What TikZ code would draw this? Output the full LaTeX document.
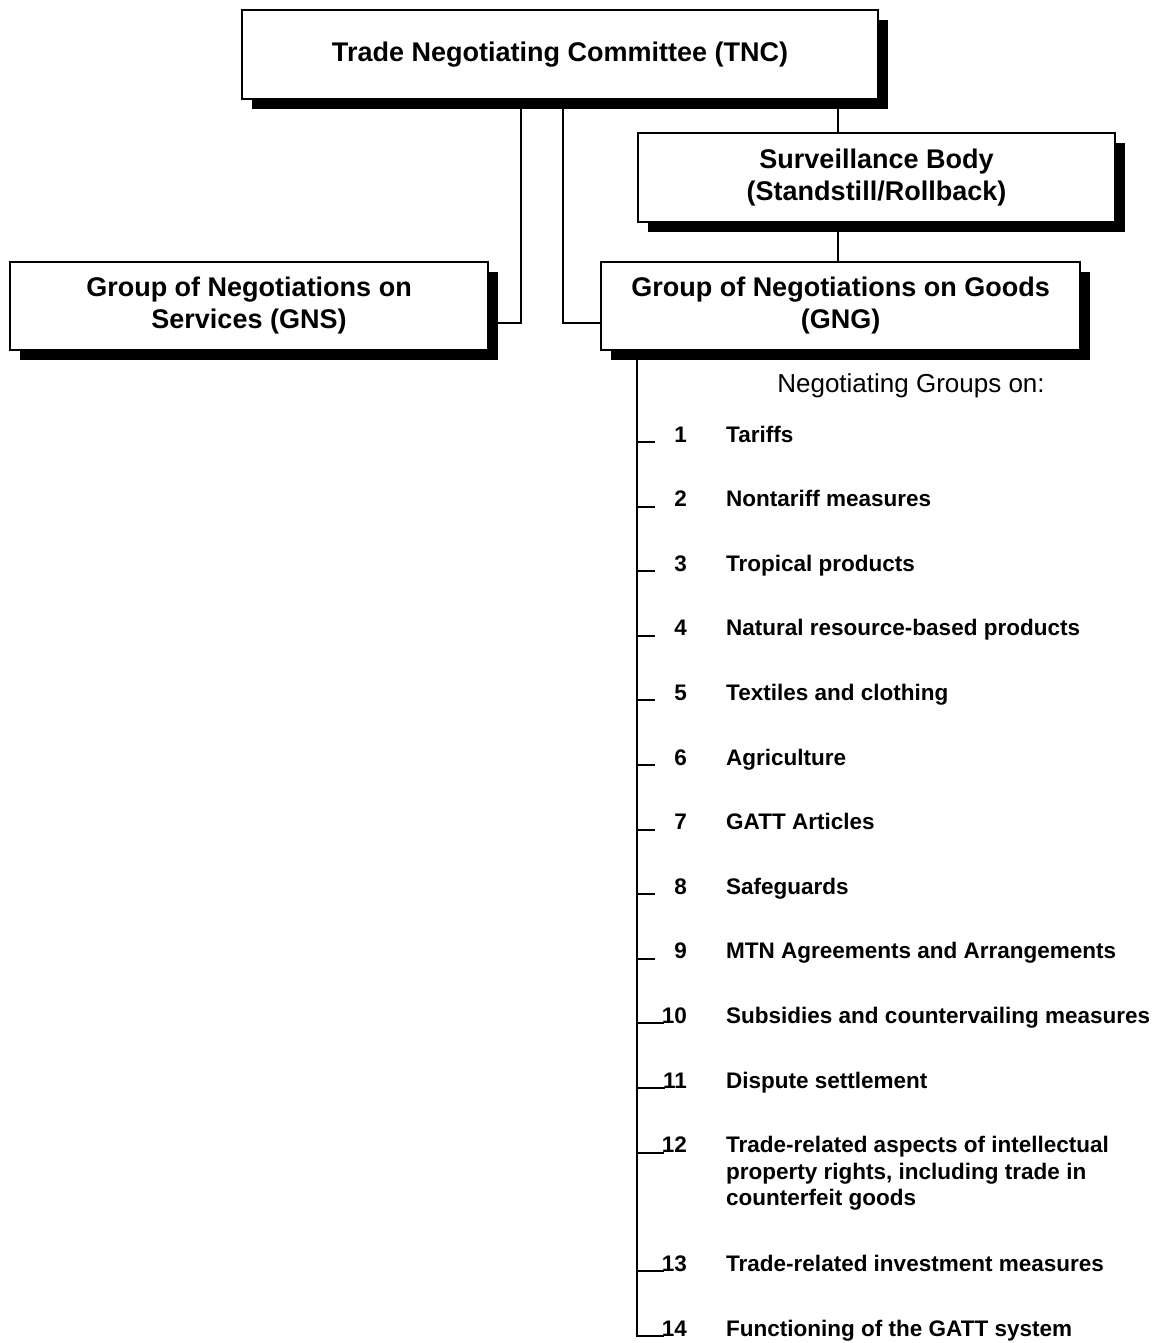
\documentclass[tikz,border=0pt]{standalone}
\usepackage{fontspec}
\setmainfont{Liberation Sans}
\usetikzlibrary{shadows}
\begin{document}
\begin{tikzpicture}[x=1pt,y=-1pt,
  box/.style={draw=black, line width=2pt, fill=white, align=center,
    font=\fontsize{27}{32}\selectfont\bfseries, inner sep=0pt,
    drop shadow={shadow xshift=10pt, shadow yshift=-10pt, fill=black, opacity=1}},
  conn/.style={line width=2pt},
  num/.style={anchor=base east, inner sep=0pt, font=\fontsize{22.5}{26.5}\selectfont\bfseries},
  itemtxt/.style={anchor=base west, inner sep=0pt, align=left, font=\fontsize{22.5}{26.5}\selectfont\bfseries}]
\useasboundingbox[fill=white] (0,0) rectangle (1158,1343);

\node[box, minimum width=636pt, minimum height=89pt] (tnc) at (560,54.5) {Trade Negotiating Committee (TNC)};
\node[box, minimum width=477pt, minimum height=89pt] (surv) at (876.5,177.5) {Surveillance Body\\(Standstill/Rollback)};
\node[box, minimum width=478pt, minimum height=88pt] (gns) at (249,306) {Group of Negotiations on\\Services (GNS)};
\node[box, minimum width=479pt, minimum height=88pt] (gng) at (840.5,306) {Group of Negotiations on Goods\\(GNG)};

\draw[conn] ([xshift=-39pt]tnc.south) |- ([yshift=-17pt]gns.east);
\draw[conn] ([xshift=3pt]tnc.south) |- ([yshift=-17pt]gng.west);
\draw[conn] ([xshift=278pt]tnc.south) -- ([xshift=-38.5pt]surv.north);
\draw[conn] ([xshift=-38.5pt]surv.south) -- ([xshift=-2.5pt]gng.north);

\node[inner sep=0pt, font=\fontsize{26}{30}\selectfont] (hdr) at (911,386) {Negotiating Groups on:};

\foreach \i/\y/\t in {1/442/Tariffs, 2/506.6/Nontariff measures, 3/571.2/Tropical products,
  4/635.8/Natural resource-based products, 5/700.4/Textiles and clothing, 6/765/Agriculture,
  7/829.6/GATT Articles, 8/894.2/Safeguards, 9/958.8/MTN Agreements and Arrangements,
  10/1023.4/Subsidies and countervailing measures, 11/1088/Dispute settlement,
  13/1271/Trade-related investment measures, 14/1336/Functioning of the GATT system}{
  \node[num] (n\i) at (687,\y) {\i};
  \node[itemtxt] (t\i) at (726,\y) {\t};
}
\node[num] (n12) at (687,1152.6) {12};
\node[itemtxt] (t12) at (726,1205.6) {Trade-related aspects of intellectual\\property rights, including trade in\\counterfeit goods};

\coordinate (bustop) at ([xshift=37pt]gng.south west);
\draw[conn, line width=2.5pt] (bustop) |- ([xshift=2pt]n14.base west);
\foreach \i in {1,...,9}{
  \draw[conn] (bustop |- n\i.base) -- ([xshift=-19pt]n\i.base west);
}
\foreach \i in {10,...,13}{
  \draw[conn] (bustop |- n\i.base) -- ([xshift=2pt]n\i.base west);
}
\end{tikzpicture}
\end{document}
